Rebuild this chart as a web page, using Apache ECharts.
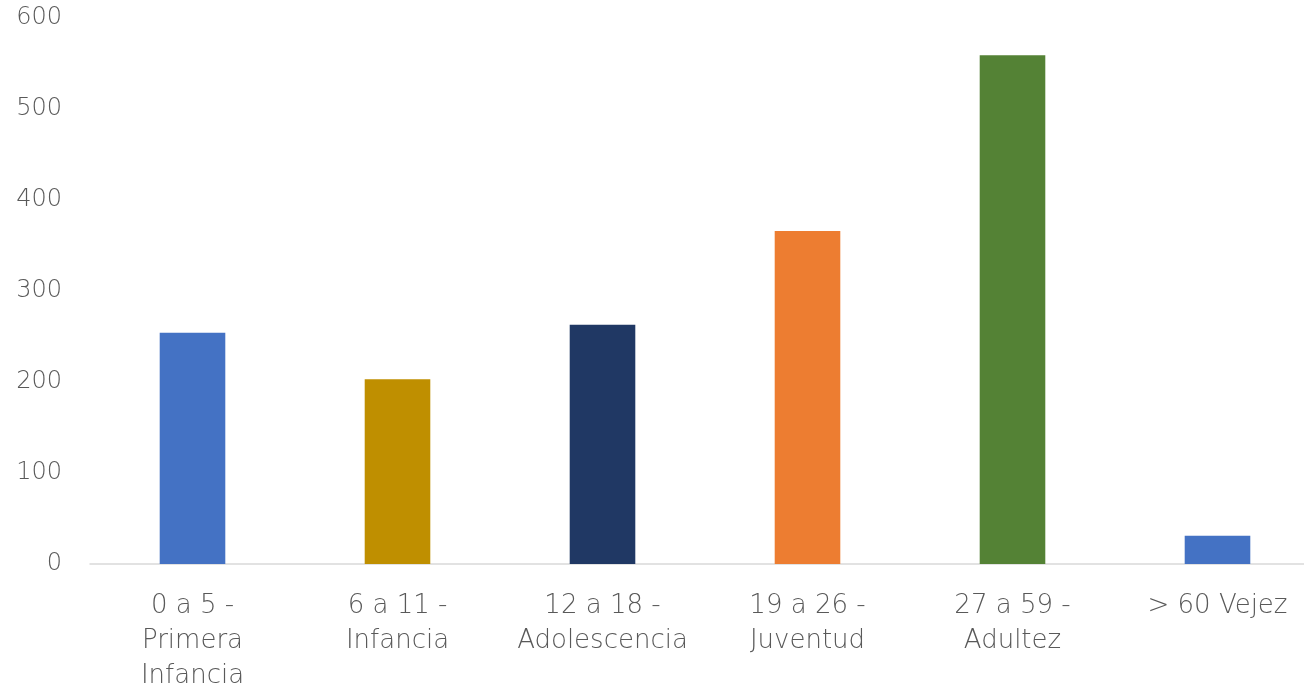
<!DOCTYPE html>
<html><head><meta charset="utf-8">
<script src="https://cdn.jsdelivr.net/npm/echarts@6/dist/echarts.min.js"></script>
<style>html,body{margin:0;padding:0;background:#fff}#c{width:1304px;height:690px}</style>
</head><body><div id="c"></div>
<script>
const categories = ["0 a 5 -\nPrimera\nInfancia", "6 a 11 -\nInfancia", "12 a 18 -\nAdolescencia", "19 a 26 -\nJuventud", "27 a 59 -\nAdultez", "> 60 Vejez"];
const values = [254, 203, 263, 366, 559, 31];
const barColors = ["#4472C4", "#BF8F00", "#203864", "#ED7D31", "#548235", "#4472C4"];
const yTicks = [0, 100, 200, 300, 400, 500, 600];

const chart = echarts.init(document.getElementById('c'), null, {renderer: 'canvas'});
const font = 'DejaVu Sans';
chart.setOption({
  animation: false,
  grid: {left: 90, right: -16, top: 18, bottom: 126, containLabel: false, outerBoundsMode: 'none'},
  xAxis: {
    type: 'category', data: categories,
    axisLine: {lineStyle: {color: '#D9D9D9', width: 1.5}},
    axisTick: {show: false},
    axisLabel: {color: '#595959', fontFamily: font, fontSize: 26, fontWeight: 300, lineHeight: 35, margin: 25, interval: 0}
  },
  yAxis: {
    type: 'value', min: yTicks[0], max: yTicks[yTicks.length - 1], interval: 100,
    axisLine: {show: false}, axisTick: {show: false}, splitLine: {show: false},
    axisLabel: {color: '#595959', fontFamily: font, fontSize: 24, fontWeight: 300, margin: 28}
  },
  series: [{
    type: 'bar',
    data: values.map((v, i) => ({value: v, itemStyle: {color: barColors[i]}})),
    barWidth: '32%'
  }]
});
</script></body></html>
